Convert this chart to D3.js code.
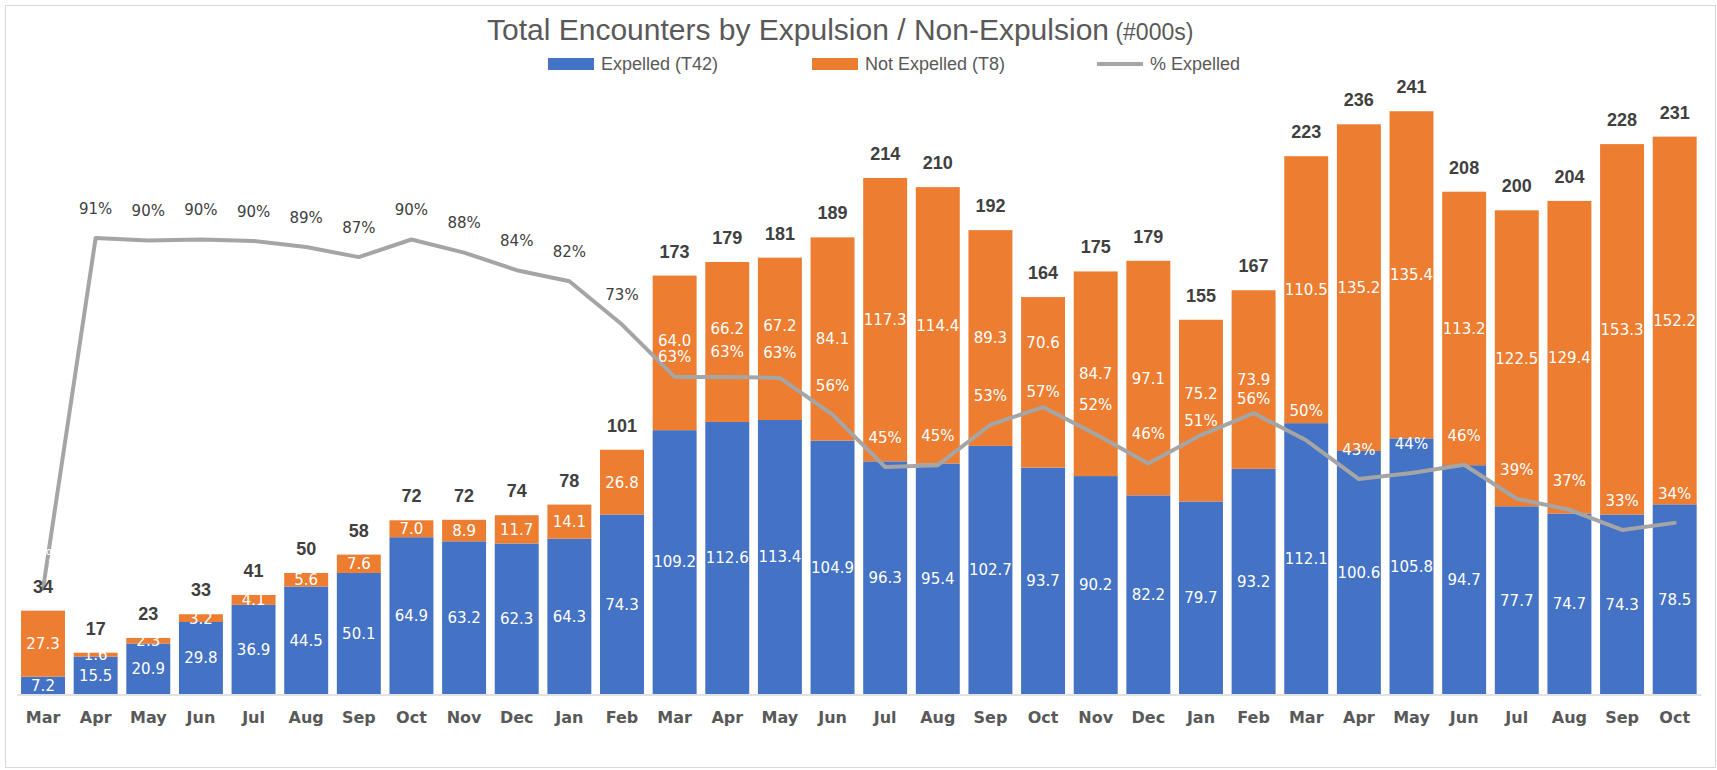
<!DOCTYPE html>
<html>
<head>
<meta charset="utf-8">
<script src="https://cdn.jsdelivr.net/npm/d3@7"></script>
<style>
  html, body { margin: 0; padding: 0; background: #ffffff; }
  svg { display: block; }
</style>
</head>
<body>
<svg id="chart" width="1717" height="770"></svg>
<script>
// ---- Data (thousands) ----
const months = ["Mar","Apr","May","Jun","Jul","Aug","Sep","Oct","Nov","Dec","Jan","Feb",
                "Mar","Apr","May","Jun","Jul","Aug","Sep","Oct","Nov","Dec","Jan","Feb",
                "Mar","Apr","May","Jun","Jul","Aug","Sep","Oct"];
const expelled = [7.2,15.5,20.9,29.8,36.9,44.5,50.1,64.9,63.2,62.3,64.3,74.3,
                  109.2,112.6,113.4,104.9,96.3,95.4,102.7,93.7,90.2,82.2,79.7,93.2,
                  112.1,100.6,105.8,94.7,77.7,74.7,74.3,78.5];
const notExpelled = [27.3,1.6,2.3,3.2,4.1,5.6,7.6,7.0,8.9,11.7,14.1,26.8,
                     64.0,66.2,67.2,84.1,117.3,114.4,89.3,70.6,84.7,97.1,75.2,73.9,
                     110.5,135.2,135.4,113.2,122.5,129.4,153.3,152.2];
const totalLabels = ["34","17","23","33","41","50","58","72","72","74","78","101",
                     "173","179","181","189","214","210","192","164","175","179","155","167",
                     "223","236","241","208","200","204","228","231"];
const pctExpelled = [0.209,0.906,0.901,0.903,0.900,0.888,0.868,0.903,0.877,0.842,0.820,0.734,
                     0.630,0.630,0.628,0.555,0.451,0.4547,0.5349,0.570,0.516,0.458,0.5145,0.558,
                     0.504,0.427,0.439,0.4555,0.388,0.366,0.326,0.340];
const seriesNames = ["Expelled (T42)","Not Expelled (T8)","% Expelled"];
const yMax = 250, y2Max = 1.2;

// ---- Layout: manually moved labels (pixel offsets, as in the source chart) ----
const pctLabelDefault = 29.5;                         // px above the point
const pctLabelOverride = {0: 33, 12: 20, 13: 25, 14: 25, 19: 16, 22: 14, 23: 15};
const notExpLabelShift = {12: -12, 13: -13, 14: -13, 19: -40, 22: -17};

// ---- Styles ----
const C_BLUE = "#4472C4", C_ORANGE = "#ED7D31", C_GRAY = "#A5A5A5";
const C_TEXT = "#595959", C_DARK = "#404040";

const svg = d3.select("#chart");
const W = 1717, H = 770;
const plot = {left: 16.7, right: 1701, top: 90, bottom: 694};

// Frame
svg.append("rect").attr("x", 5.5).attr("y", 5.5).attr("width", 1710).attr("height", 762)
  .attr("fill", "#fff").attr("stroke", "#D9D9D9").attr("stroke-width", 1);

const idx = d3.range(months.length);
const x = d3.scaleBand().domain(idx).range([plot.left, plot.right])
  .paddingInner(0.165).paddingOuter(0.0825);
const y = d3.scaleLinear().domain([0, yMax]).range([plot.bottom, plot.top]);
const y2 = d3.scaleLinear().domain([0, y2Max]).range([plot.bottom, plot.top]);
const cx = i => x(i) + x.bandwidth() / 2;

// Stack
const rows = idx.map(i => ({i, expelled: expelled[i], notExpelled: notExpelled[i]}));
const stack = d3.stack().keys(["expelled","notExpelled"])(rows);
const colors = {expelled: C_BLUE, notExpelled: C_ORANGE};

const gBars = svg.append("g");
stack.forEach(layer => {
  gBars.append("g").attr("fill", colors[layer.key])
    .selectAll("rect").data(layer).join("rect")
    .attr("x", d => x(d.data.i))
    .attr("width", x.bandwidth())
    .attr("y", d => y(d[1]))
    .attr("height", d => y(d[0]) - y(d[1]));
});

// X axis
const xAxis = d3.axisBottom(x).tickSize(0).tickFormat(i => months[i]);
const gx = svg.append("g").attr("transform", `translate(0,${plot.bottom + 0.5})`).call(xAxis);
gx.select(".domain").attr("stroke", "#D9D9D9").attr("stroke-width", 1.5);
gx.selectAll("text").attr("y", 28.5).attr("dy", "0")
  .attr("font-family", "DejaVu Sans, sans-serif").attr("font-weight", "bold")
  .attr("font-size", 16).attr("fill", C_TEXT);

// Segment value labels
const gVals = svg.append("g").attr("font-family", "DejaVu Sans, sans-serif")
  .attr("font-size", 15).attr("fill", "#fff").attr("text-anchor", "middle");
stack.forEach(layer => {
  gVals.append("g").selectAll("text").data(layer).join("text")
    .attr("x", d => cx(d.data.i))
    .attr("y", d => (y(d[0]) + y(d[1])) / 2 +
                    (layer.key === "notExpelled" ? (notExpLabelShift[d.data.i] || 0) : 0))
    .attr("dy", "0.36em")
    .text(d => d3.format(".1f")(d[1] - d[0]));
});

// Line (% expelled)
const line = d3.line().x(i => cx(i)).y(i => y2(pctExpelled[i]));
svg.append("path").datum(idx).attr("d", line)
  .attr("fill", "none").attr("stroke", C_GRAY).attr("stroke-width", 4)
  .attr("stroke-linejoin", "round").attr("stroke-linecap", "round");

// Total labels
svg.append("g").attr("font-family", "Liberation Sans, Arial, sans-serif")
  .attr("font-weight", "bold").attr("font-size", 18).attr("fill", C_DARK)
  .attr("text-anchor", "middle")
  .selectAll("text").data(idx).join("text")
  .attr("x", cx)
  .attr("y", i => y(expelled[i] + notExpelled[i]) - 24.5)
  .attr("dy", "0.36em")
  .text(i => totalLabels[i]);

// Percent labels
const pctY = i => y2(pctExpelled[i]) - (pctLabelOverride[i] !== undefined ? pctLabelOverride[i] : pctLabelDefault);
svg.append("g").attr("font-family", "DejaVu Sans, sans-serif")
  .attr("font-size", 15).attr("text-anchor", "middle")
  .selectAll("text").data(idx).join("text")
  .attr("x", cx)
  .attr("y", pctY)
  .attr("dy", "0.36em")
  .attr("fill", i => (i === 0 || pctY(i) > y(expelled[i] + notExpelled[i])) ? "#fff" : C_DARK)
  .text(i => d3.format(".0%")(pctExpelled[i]));

// Title
const title = svg.append("text").attr("x", 487).attr("y", 40)
  .attr("text-anchor", "start").attr("fill", C_TEXT)
  .attr("font-family", "Liberation Sans, Arial, sans-serif");
title.append("tspan").attr("font-size", 30).text("Total Encounters by Expulsion / Non-Expulsion");
title.append("tspan").attr("font-size", 23).text(" (#000s)");

// Legend
const legend = svg.append("g").attr("font-family", "Liberation Sans, Arial, sans-serif")
  .attr("font-size", 18).attr("fill", C_TEXT);
const legendItems = [
  {name: seriesNames[0], type: "rect", color: C_BLUE, x: 548},
  {name: seriesNames[1], type: "rect", color: C_ORANGE, x: 812},
  {name: seriesNames[2], type: "line", color: C_GRAY, x: 1097}
];
const ly = 64;
legendItems.forEach(it => {
  if (it.type === "rect") {
    legend.append("rect").attr("x", it.x).attr("y", ly - 6).attr("width", 46).attr("height", 12)
      .attr("fill", it.color);
  } else {
    legend.append("line").attr("x1", it.x).attr("x2", it.x + 46).attr("y1", ly).attr("y2", ly)
      .attr("stroke", it.color).attr("stroke-width", 4);
  }
  legend.append("text").attr("x", it.x + 53).attr("y", ly).attr("dy", "0.35em").text(it.name);
});
</script>
</body>
</html>
